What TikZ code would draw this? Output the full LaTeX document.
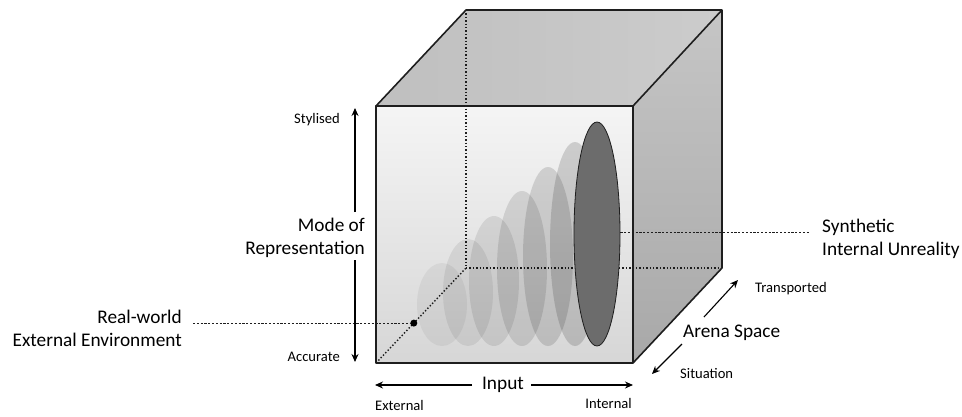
\documentclass[tikz,border=0pt]{standalone}
\usepackage{fontspec}
\setmainfont{Carlito}
\usetikzlibrary{arrows.meta,shapes.geometric,calc}
\definecolor{edge}{HTML}{1E1E1E}
\definecolor{lens}{HTML}{6C6C6C}
\tikzset{
  cubeedge/.style={draw=edge,line width=1.6pt,line join=round},
  hidden/.style={draw=edge,line width=1.4pt,dotted},
  leader/.style={draw=edge,line width=0.8pt,dash pattern=on 2.2pt off 1.6pt},
  axisarrow/.style={draw=black,line width=1.1pt,-{Stealth[length=8pt,width=7pt]}},
  bigtext/.style={font=\fontsize{19.3}{23}\selectfont,inner sep=0pt,align=right},
  smalltext/.style={font=\fontsize{14.6}{17}\selectfont,inner sep=0pt},
  ghost/.style={ellipse,inner sep=0pt,minimum width=50pt,fill=black},
}
\begin{document}
\begin{tikzpicture}[x=1pt,y=-1pt]
\useasboundingbox (0,0) rectangle (962,416);

% cube corners
\coordinate (ftl) at (376,106);
\coordinate (ftr) at (633,106);
\coordinate (fbr) at (633,363);
\coordinate (fbl) at (376,363);
\coordinate (btl) at (466,10);
\coordinate (btr) at (722,10);
\coordinate (bbr) at (722,268);
\coordinate (bbl) at (466,268);

% faces
\shade[top color=gray!8,bottom color=gray!32] (ftl) -- (ftr) -- (fbr) -- (fbl) -- cycle;
\shade[left color=gray!50,middle color=gray!14,right color=gray!40] (ftl) -- (btl) -- (btr) -- (ftr) -- cycle;
\shade[top color=gray!45,bottom color=gray!68] (ftr) -- (btr) -- (bbr) -- (fbr) -- cycle;

% hidden edges
\draw[hidden] (btl) -- (bbl);
\draw[hidden] (bbl) -- (bbr);
\draw[hidden] (fbl) -- (bbl);

% receding discs
\node[ghost,minimum height=83pt,fill opacity=0.05] (g1) at (442,304.5) {};
\node[ghost,minimum height=107pt,fill opacity=0.07] (g2) at (468,292.5) {};
\node[ghost,minimum height=130pt,fill opacity=0.09] (g3) at (494,281) {};
\node[ghost,minimum height=155pt,fill opacity=0.11] (g4) at (522,268.5) {};
\node[ghost,minimum height=179pt,fill opacity=0.13] (g5) at (548,256.5) {};
\node[ghost,minimum height=204pt,fill opacity=0.15] (g6) at (575,244) {};
\node[ellipse,inner sep=0pt,minimum width=46pt,minimum height=224pt,fill=lens,draw=edge,line width=0.8pt] (syn) at (597,234) {};

% outline
\draw[cubeedge] (ftl) -- (ftr) -- (fbr) -- (fbl) -- cycle;
\draw[cubeedge] (ftl) -- (btl) -- (btr) -- (ftr);
\draw[cubeedge] (btr) -- (bbr) -- (fbr);

% real-world point
\node[circle,fill=black,inner sep=0pt,minimum size=7pt] (rw) at ($(fbl)!0.42!(bbl)$) {};

% labels
\node[bigtext,anchor=east] (rwtxt) at (182,328) {Real-world\\External Environment};
\node[bigtext,anchor=west,align=left] (syntxt) at (822,239) {Synthetic\\Internal Unreality};
\coordinate (rwend) at (193,0);
\draw[leader] (rwend |- rw) -- (rw);
\coordinate (synend) at (810,232);
\draw[leader] (syn.east |- synend) -- (synend);

% mode of representation axis
\node[bigtext,anchor=east] (mode) at (365,238) {Mode of\\Representation};
\node[smalltext,anchor=east] (styl) at (340,120) {Stylised};
\node[smalltext,anchor=east] (accu) at (340,357) {Accurate};
\coordinate (modeup) at (355,212);
\coordinate (modetop) at (355,108);
\coordinate (modedn) at (355,260);
\coordinate (modebot) at (355,362);
\draw[axisarrow] (modeup) -- (modetop);
\draw[axisarrow] (modedn) -- (modebot);

% input axis
\node[bigtext] (input) at (503,385) {Input};
\node[smalltext,anchor=west] (ext) at (375,405) {External};
\node[smalltext,anchor=east] (int) at (632,403) {Internal};
\coordinate (inl) at (375,385);
\coordinate (inr) at (633,385);
\coordinate (inl0) at (472,385);
\coordinate (inr0) at (531,385);
\draw[axisarrow] (inl0) -- (inl);
\draw[axisarrow] (inr0) -- (inr);

% arena space axis
\node[bigtext,anchor=west] (arena) at (683,333) {Arena Space};
\node[smalltext,anchor=west] (trans) at (755,289) {Transported};
\node[smalltext,anchor=west] (situ) at (680,373) {Situation};
\coordinate (arup0) at (704,317);
\coordinate (arup1) at (738,280);
\coordinate (ardn0) at (682,344);
\coordinate (ardn1) at (652,374);
\draw[axisarrow] (arup0) -- (arup1);
\draw[axisarrow] (ardn0) -- (ardn1);
\end{tikzpicture}
\end{document}
